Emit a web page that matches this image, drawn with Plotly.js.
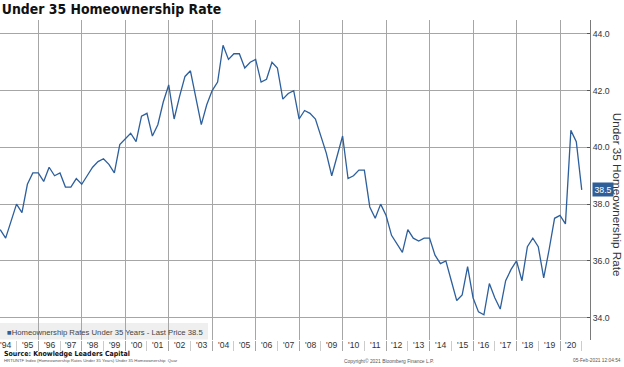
<!DOCTYPE html>
<html>
<head>
<meta charset="utf-8">
<script src="https://cdn.plot.ly/plotly-3.0.1.min.js"></script>
<style>
  html, body { margin: 0; padding: 0; background: #ffffff; }
  #chart { width: 624px; height: 367px; }
</style>
</head>
<body>
<div id="chart"></div>
<script>
// ---- Data (quarterly) ----
const years = [1994, 1995, 1996, 1997, 1998, 1999, 2000, 2001, 2002, 2003, 2004, 2005, 2006,
               2007, 2008, 2009, 2010, 2011, 2012, 2013, 2014, 2015, 2016, 2017, 2018, 2019, 2020];
const quarterNames = ['Q1', 'Q2', 'Q3', 'Q4'];
const rate = [
  37.1, 36.8, 37.4, 38.0,   // 1994
  37.7, 38.7, 39.1, 39.1,   // 1995
  38.8, 39.3, 39.0, 39.1,   // 1996
  38.6, 38.6, 38.9, 38.7,   // 1997
  39.0, 39.3, 39.5, 39.6,   // 1998
  39.4, 39.1, 40.1, 40.3,   // 1999
  40.5, 40.2, 41.1, 41.2,   // 2000
  40.4, 40.8, 41.6, 42.2,   // 2001
  41.0, 41.8, 42.5, 42.7,   // 2002
  41.8, 40.8, 41.5, 42.0,   // 2003
  42.3, 43.6, 43.1, 43.3,   // 2004
  43.3, 42.8, 43.0, 43.1,   // 2005
  42.3, 42.4, 43.0, 42.8,   // 2006
  41.7, 41.9, 42.0, 41.0,   // 2007
  41.3, 41.2, 41.0, 40.4,   // 2008
  39.8, 39.0, 39.7, 40.4,   // 2009
  38.9, 39.0, 39.2, 39.2,   // 2010
  37.9, 37.5, 38.0, 37.6,   // 2011
  36.9, 36.6, 36.3, 37.1,   // 2012
  36.8, 36.7, 36.8, 36.8,   // 2013
  36.2, 35.9, 36.0, 35.3,   // 2014
  34.6, 34.8, 35.8, 34.7,   // 2015
  34.2, 34.1, 35.2, 34.7,   // 2016
  34.3, 35.3, 35.7, 36.0,   // 2017
  35.3, 36.5, 36.8, 36.5,   // 2018
  35.4, 36.4, 37.5, 37.6,   // 2019
  37.3, 40.6, 40.2, 38.5    // 2020
];
const yTicks = [34, 36, 38, 40, 42, 44];
const seriesName = 'Homeownership Rates Under 35 Years';
const axisTitle = 'Under 35 Homeownership Rate';
const chartTitle = 'Under 35 Homeownership Rate';
const sourceText = 'Source: Knowledge Leaders Capital';
const footLeft = 'HRTUNTF Index (Homeownership Rates Under 35 Years) Under 35 Homeownership  Quar';
const footMid = 'Copyright\u00A9 2021 Bloomberg Finance L.P.';
const footRight = '05-Feb-2021 12:04:54';

// ---- Build series: each quarter plotted at its quarter-end (decimal year) ----
const xq = [];
const hoverLabels = [];
years.forEach(function (yr) {
  quarterNames.forEach(function (qn, qi) {
    xq.push(yr + (qi + 1) / 4);
    hoverLabels.push(yr + ' ' + qn);
  });
});
const lastVal = rate[rate.length - 1];
const yearMid = years.map(function (y) { return y + 0.5; });
const yearLabels = years.map(function (y) { return "'" + String(y).slice(2); });

const SANS = "'Liberation Sans', Arial, sans-serif";
const BOLDF = "'DejaVu Sans Condensed', 'DejaVu Sans', 'Liberation Sans', sans-serif";
const LINE = '#2d5f9c';
const GRID = '#a6a6a6';

const xRange = [1994.24, 2021.38];
const yRange = [33.21, 44.49];

const trace = {
  x: xq, y: rate, text: hoverLabels,
  type: 'scatter', mode: 'lines',
  line: { color: LINE, width: 1.3 },
  name: seriesName, showlegend: false
};

const annotations = [];
// year labels in the band below the plot, centred in each year
yearMid.forEach(function (xm, i) {
  annotations.push({ xref: 'x', yref: 'paper', x: xm, y: -4.7 / 320, xanchor: 'center', yanchor: 'middle',
    text: yearLabels[i], showarrow: false, font: { family: SANS, size: 8.6, color: '#333333' } });
});
annotations.push(
  { xref: 'paper', yref: 'paper', x: 4.5 / 590, y: 7.7 / 320, xanchor: 'left', yanchor: 'middle',
    text: '<span style="color:' + LINE + '">\u25A0</span>' + seriesName + ' - Last Price ' + lastVal.toFixed(1),
    showarrow: false, font: { family: SANS, size: 7.7, color: '#444444' } },
  { xref: 'paper', yref: 'y', x: 1.003, y: lastVal, xanchor: 'left', yanchor: 'middle',
    text: lastVal.toFixed(1), showarrow: false, bgcolor: '#2f5f99', borderpad: 1.5,
    font: { family: SANS, size: 8.7, color: '#ffffff' } },
  { xref: 'paper', yref: 'paper', x: 617.5 / 590, y: 0.4556, xanchor: 'center', yanchor: 'middle',
    text: axisTitle, textangle: 90, showarrow: false,
    font: { family: SANS, size: 11.7, color: '#333333' } },
  { xref: 'paper', yref: 'paper', x: 1.5 / 590, y: -14 / 320, xanchor: 'left', yanchor: 'middle',
    text: '<b>' + sourceText + '</b>', showarrow: false,
    font: { family: BOLDF, size: 7.0, color: '#111111' } },
  { xref: 'paper', yref: 'paper', x: 1.5 / 590, y: -20.7 / 320, xanchor: 'left', yanchor: 'middle',
    text: footLeft, showarrow: false, font: { family: SANS, size: 4.3, color: '#555555' } },
  { xref: 'paper', yref: 'paper', x: 342 / 590, y: -20.7 / 320, xanchor: 'left', yanchor: 'middle',
    text: footMid, showarrow: false, font: { family: SANS, size: 4.9, color: '#555555' } },
  { xref: 'paper', yref: 'paper', x: 623 / 590, y: -20.7 / 320, xanchor: 'right', yanchor: 'middle',
    text: footRight, showarrow: false, font: { family: SANS, size: 4.8, color: '#555555' } }
);

const layout = {
  width: 624, height: 367,
  margin: { l: 0, r: 34, t: 20, b: 27, pad: 0 },
  paper_bgcolor: '#ffffff', plot_bgcolor: '#ffffff',
  showlegend: false,
  title: {
    text: '<b>' + chartTitle + '</b>',
    x: 0.003, xanchor: 'left', xref: 'paper',
    y: 0.974, yanchor: 'middle', yref: 'container',
    font: { family: BOLDF, size: 13.9, color: '#111111' }
  },
  xaxis: {
    range: xRange, type: 'linear',
    tickmode: 'linear', tick0: 1994, dtick: 2,
    showgrid: true, gridcolor: GRID, gridwidth: 1,
    ticks: 'outside', ticklen: 10, tickcolor: GRID, tickwidth: 1,
    minor: { tickmode: 'linear', tick0: 1994, dtick: 1, ticks: 'outside', ticklen: 10, tickcolor: '#cccccc', showgrid: false },
    showticklabels: false, zeroline: false, showline: false, fixedrange: true
  },
  yaxis: {
    range: yRange, side: 'right',
    tickmode: 'array', tickvals: yTicks, ticktext: yTicks.map(function (v) { return v.toFixed(1); }),
    showgrid: true, gridcolor: GRID, gridwidth: 1,
    showline: true, linecolor: '#7a7a7a', linewidth: 1,
    ticks: 'inside', ticklen: 3, tickcolor: '#555555',
    tickfont: { family: SANS, size: 8.7, color: '#333333' },
    zeroline: false, fixedrange: true
  },
  shapes: [
    { type: 'rect', xref: 'paper', yref: 'paper', x0: 0, x1: 208 / 590, y0: 0.5 / 320, y1: 17 / 320,
      fillcolor: '#efefef', line: { width: 0 }, layer: 'below' }
  ],
  annotations: annotations
};

Plotly.newPlot('chart', [trace], layout, { displayModeBar: false, staticPlot: true });
</script>
</body>
</html>
